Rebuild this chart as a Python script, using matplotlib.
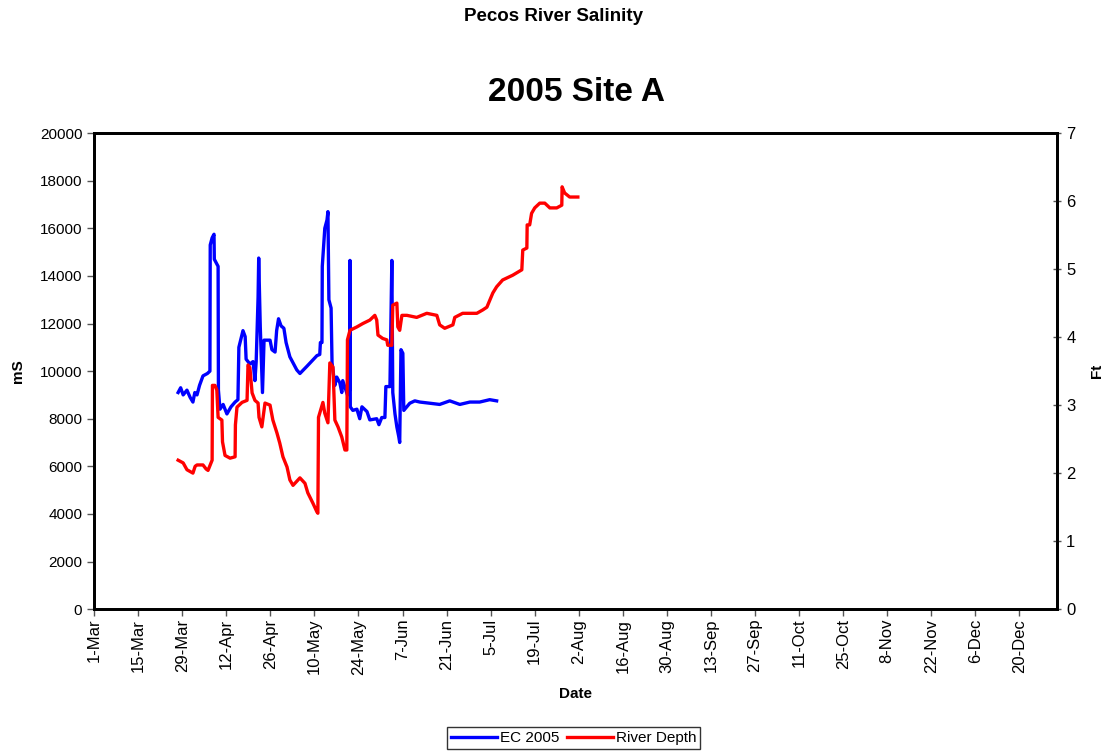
import numpy as np
import matplotlib
matplotlib.use('Agg')
from matplotlib import pyplot as plt
import matplotlib.dates as mdates

plt.rcParams['font.family'] = ['Liberation Sans', 'DejaVu Sans']

# days after 1-Mar-2005, EC in mS
ec_day = [26.7, 27.5, 28.3, 29.5, 30.5, 31.4, 32.0, 32.7, 33.5, 34.6, 36.0, 36.8,
          36.9, 37.5, 38.1, 38.2, 39.4, 39.5, 40.0, 41.0, 42.2, 43.5, 44.8, 45.7,
          46.0, 47.3, 48.0, 48.3, 49.5, 50.5, 51.1, 51.5, 52.1, 52.3, 52.8, 53.5,
          54.0, 55.9, 56.5, 57.5, 58.0, 58.6, 59.4, 60.3, 61.0, 62.2, 64.4, 65.4,
          67.6, 70.8, 71.7, 71.9, 72.4, 72.5, 73.3, 74.0, 74.3, 74.6, 75.3, 75.6,
          76.5, 77.1, 78.1, 78.7, 79.0, 80.5, 81.2, 81.3, 81.4, 82.2, 83.5, 84.4,
          85.1, 86.7, 87.6, 89.8, 90.5, 91.4, 92.4, 92.7, 94.0, 94.6, 94.9, 95.6,
          96.2, 96.8, 97.1, 97.5, 98.1, 98.4, 100.3, 101.9, 103.5, 106.7, 109.8,
          113.0, 116.2, 119.4, 122.5, 125.7, 127.9]
ec_val = [9100, 9300, 9000, 9200, 8900, 8700, 9100, 9000, 9400, 9800, 9900, 10000,
          15300, 15600, 15750, 14700, 14400, 9200, 8400, 8600, 8200, 8500, 8700, 8800,
          11000, 11700, 11450, 10500, 10300, 10400, 9600, 10400, 13100, 14750, 11850, 9100,
          11300, 11300, 10900, 10800, 11700, 12200, 11900, 11800, 11200, 10600, 10050, 9900,
          10200, 10650, 10700, 11200, 11200, 14400, 16000, 16350, 16700, 13000, 12650, 10350,
          9400, 9750, 9500, 9100, 9600, 9000, 9200, 14650, 8500, 8350, 8400, 8000,
          8500, 8300, 7950, 8000, 7750, 8050, 8050, 9350, 9350, 14650, 9100, 8200,
          7650, 7250, 7000, 10900, 10750, 8350, 8650, 8750, 8700, 8650, 8600,
          8750, 8600, 8700, 8700, 8800, 8750]

# days after 1-Mar-2005, river depth in ft
depth_day = [26.7, 28.3, 29.5, 31.4, 32.1, 32.7, 34.6, 35.6, 36.2, 37.5, 37.6, 38.4,
             39.0, 39.4, 40.6, 40.8, 41.6, 43.2, 44.8, 44.9, 45.4, 47.0, 48.6, 48.9,
             49.5, 50.2, 51.1, 52.1, 52.4, 53.3, 54.3, 55.9, 56.8, 58.1, 59.0, 60.0,
             61.3, 62.2, 63.2, 65.4, 67.0, 67.9, 69.5, 70.8, 71.1, 71.3, 72.7, 73.3,
             74.3, 74.9, 75.9, 76.5, 77.5, 78.7, 79.7, 80.3, 80.5, 81.3, 83.5, 85.4,
             87.6, 89.2, 89.8, 90.2, 91.7, 93.0, 93.3, 94.6, 94.9, 96.2, 96.5, 97.1,
             97.8, 99.4, 102.5, 105.7, 108.9, 109.8, 111.4, 114.0, 114.6, 117.1, 121.6,
             123.5, 124.8, 125.7, 126.7, 127.9, 129.8, 133.0, 135.9, 136.2, 137.5, 137.6,
             138.4, 139.0, 140.0, 141.6, 143.2, 144.8, 147.0, 148.6, 148.7, 149.5, 151.1,
             153.7]
depth_val = [2.19, 2.15, 2.05, 2.0, 2.1, 2.12, 2.12, 2.06, 2.04, 2.19, 3.29, 3.29,
             3.22, 2.82, 2.78, 2.46, 2.26, 2.22, 2.24, 2.71, 2.97, 3.04, 3.07, 3.59,
             3.55, 3.18, 3.07, 3.03, 2.82, 2.68, 3.03, 3.0, 2.78, 2.59, 2.44, 2.24,
             2.09, 1.9, 1.82, 1.93, 1.85, 1.71, 1.56, 1.43, 1.41, 2.82, 3.04, 2.88,
             2.74, 3.62, 3.56, 2.78, 2.68, 2.53, 2.34, 2.34, 3.96, 4.1, 4.15, 4.2,
             4.25, 4.32, 4.25, 4.03, 3.98, 3.96, 3.88, 3.88, 4.47, 4.5, 4.15, 4.1,
             4.32, 4.32, 4.29, 4.35, 4.32, 4.18, 4.13, 4.18, 4.29, 4.35, 4.35,
             4.4, 4.44, 4.54, 4.65, 4.74, 4.84, 4.91, 4.99, 5.28, 5.31, 5.65,
             5.65, 5.82, 5.9, 5.97, 5.97, 5.9, 5.9, 5.94, 6.21, 6.12, 6.06,
             6.06]

start = mdates.datestr2num('2005-03-01')
ec_x = start + np.array(ec_day)
depth_x = start + np.array(depth_day)

fig = plt.figure(figsize=(11.07, 7.52), dpi=100)
ax = fig.add_axes([0.085, 0.19, 0.87, 0.633])
ax2 = ax.twinx()

l1, = ax.plot(ec_x, ec_val, color='#0000ff', lw=2.4, label='EC 2005')
l2, = ax2.plot(depth_x, depth_val, color='#ff0000', lw=2.4, label='River Depth')

ax.set_xlim(start, start + 306)
ax.set_ylim(0, 20000)
ax2.set_ylim(0, 7)
ax.set_yticks(np.arange(0, 20001, 2000))
ax2.set_yticks(np.arange(0, 8, 1))
ax.set_xticks(start + np.arange(0, 300, 14))
ax.xaxis.set_major_formatter(mdates.DateFormatter('%-d-%b'))

for a in (ax, ax2):
    for s in a.spines.values():
        s.set_linewidth(2)
        s.set_color('black')
ax.tick_params(axis='y', labelsize=11, length=5, width=1, color='#555555')
ax.tick_params(axis='x', labelsize=12, length=5, width=1, color='#555555',
               labelrotation=90, pad=2)
ax2.tick_params(axis='y', labelsize=12, length=6, width=1, direction='inout', color='#555555')

ax.set_xlabel('Date', fontsize=11, fontweight='bold', labelpad=9)
fig.text(18 / 1107, 1 - 371 / 752, 'mS', fontsize=11, fontweight='bold',
         rotation=90, ha='center', va='center')
fig.text(1097 / 1107, 1 - 371 / 752, 'Ft', fontsize=11, fontweight='bold',
         rotation=90, ha='center', va='center')

fig.suptitle('Pecos River Salinity', fontsize=13.5, fontweight='bold', y=0.99)
fig.text(0.521, 0.877, '2005 Site A', fontsize=24, fontweight='bold', ha='center', va='center')

leg = fig.legend(handles=[l1, l2], loc='lower center', bbox_to_anchor=(0.518, 0.0),
                 ncol=2, fontsize=11, frameon=True, fancybox=False, edgecolor='black',
                 handlelength=3, handletextpad=0.2, columnspacing=0.5,
                 borderpad=0.25, borderaxespad=0.2)
leg.get_frame().set_linewidth(1)

fig.savefig('out.png', dpi=100)
